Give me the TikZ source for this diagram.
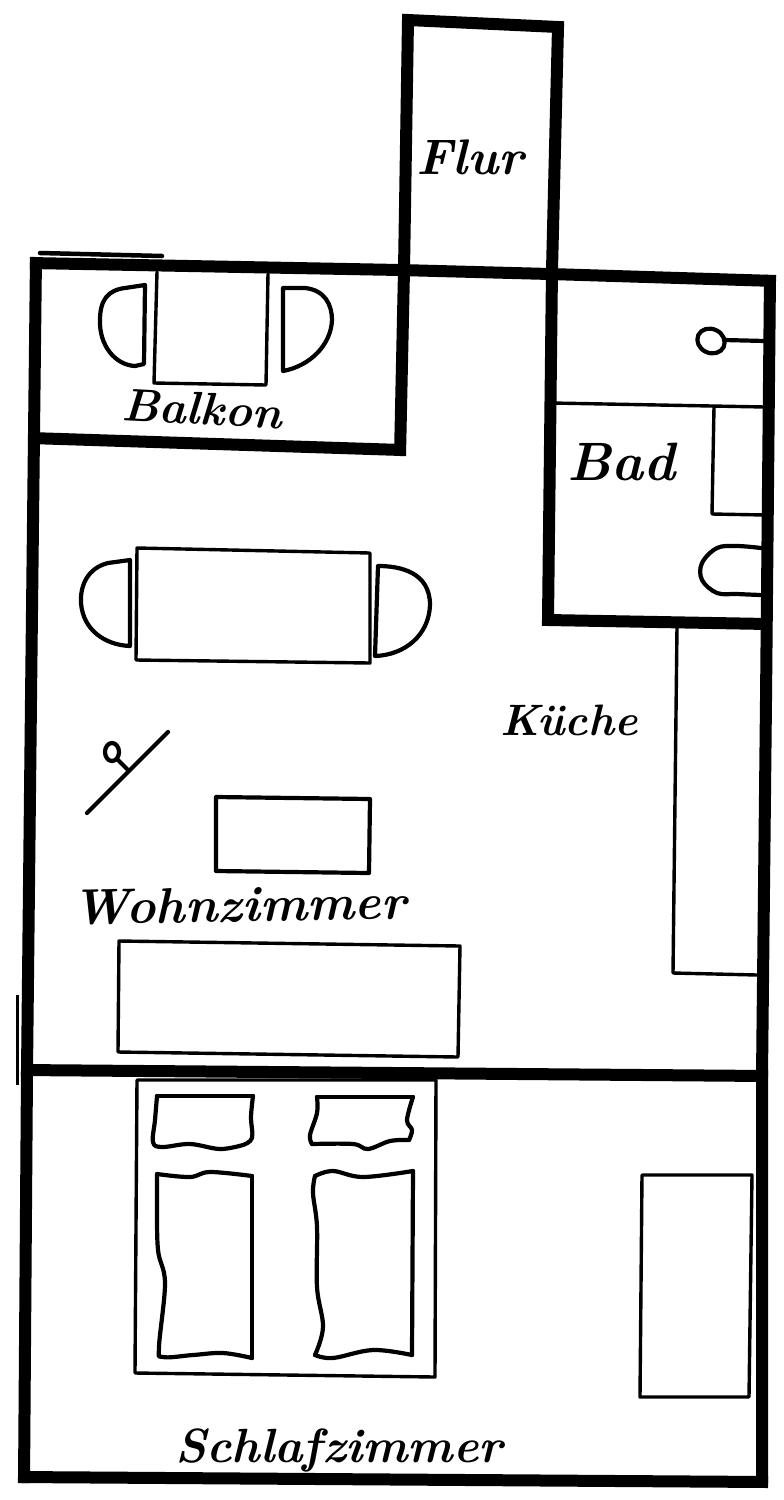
\documentclass[tikz,border=0pt]{standalone}
\usepackage{fontspec}
\tikzset{
  wall/.style={line width=12pt,line join=miter,line cap=butt},
  thinline/.style={line width=3.4pt,line join=round,line cap=round},
  medline/.style={line width=4.2pt,line join=round,line cap=round},
  wavy/.style={medline,smooth,tension=0.6},
  hand/.style={inner sep=0pt,font=\bfseries\itshape\fontsize{#1}{#1}\selectfont},
  hand/.default=40
}
\begin{document}
\begin{tikzpicture}[x=1pt,y=-1pt]
\useasboundingbox (0,0) rectangle (784,1500);
\fill[white] (0,0) rectangle (784,1500);
% outer walls
\draw[wall] (30,263) -- (400,270) -- (550,274) -- (776,281);
\draw[wall] (770,275) -- (766,700) -- (762,1076) -- (762,1487);
\draw[wall] (36,257) -- (31,700) -- (27,1072) -- (24,1483);
\draw[wall] (18,1477) -- (768,1482);
\draw[wall] (21,1070) -- (768,1076);
% hall and bathroom walls
\draw[wall] (400,456) -- (404,270) -- (408,20) -- (558,27) -- (552,270) -- (548,620) -- (768,624);
\draw[wall] (30,438) -- (402,450);
% small extra strokes
\draw[line width=4.5pt,line cap=round] (40,253) -- (162,256);
\draw[line width=3pt] (17,995) -- (17,1085);
% bathroom
\draw[thinline] (552,403) -- (765,407);
\draw[thinline] (765,515) -- (712,514) -- (714,407);
\draw[medline,rotate around={-25:(711,341)}] (711,341) ellipse[x radius=14,y radius=12];
\draw[medline] (724,340) -- (765,341);
\draw[medline] plot[smooth,tension=0.6] coordinates {(761,548) (737,546) (717,548) (702,563) (702,580) (717,593) (737,594) (760,595)};
% kitchen counter
\draw[thinline] (677,627) -- (673,973) -- (757,975);
% balcony furniture
\draw[thinline] (157,272) -- (154,383) -- (266,385) -- (268,274);
\draw[medline] (145,285) -- (125,288) .. controls (108,290) and (100,300) .. (100,320)
  .. controls (99,345) and (115,365) .. (135,366) -- (144,364) -- cycle;
\draw[medline] (283,288) -- (305,288) .. controls (325,290) and (332,305) .. (332,320)
  .. controls (331,345) and (310,366) .. (283,371) -- cycle;
% dining table
\draw[thinline] (137,548) -- (370,553) -- (370,663) -- (136,660) -- cycle;
\draw[medline] (130,560) -- (108,563) .. controls (88,568) and (80,585) .. (81,603)
  .. controls (83,630) and (105,645) .. (130,646) -- cycle;
\draw[medline] (378,566) .. controls (400,566) and (430,572) .. (430,605)
  .. controls (429,635) and (405,655) .. (375,656) -- cycle;
% lamp
\draw[medline] (87,813) -- (168,732);
\draw[medline] (112,752) ellipse[x radius=7,y radius=9];
\draw[medline] (118,760) -- (128,770);
% coffee table and sofa
\draw[medline] (216,797) -- (370,799) -- (369,873) -- (216,871) -- cycle;
\draw[thinline] (119,941) -- (460,946) -- (458,1057) -- (118,1052) -- cycle;
% bed
\draw[thinline] (137,1080) -- (436,1080) -- (435,1377) -- (135,1373) -- cycle;
% pillows
\draw[medline] (157,1096) -- (253,1096);
\draw[medline] plot[smooth,tension=0.6] coordinates {(253,1096) (251,1117) (252,1138) (243,1145)};
\draw[medline] plot[smooth,tension=0.6] coordinates {(243,1145) (220,1149) (190,1144) (162,1147) (153,1142) (155,1120) (157,1096)};
\draw[medline] (317,1097) -- (413,1097);
\draw[medline] plot[smooth,tension=0.6] coordinates {(413,1097) (407,1120) (412,1130) (409,1140)};
\draw[medline] plot[smooth,tension=0.6] coordinates {(409,1140) (390,1141) (368,1149) (353,1144) (312,1144)};
\draw[medline] plot[smooth,tension=0.6] coordinates {(312,1144) (310,1135) (317,1113) (317,1097)};
% mattresses
\draw[medline] plot[smooth,tension=0.6] coordinates {(157,1174) (190,1177) (210,1172) (252,1176)};
\draw[medline] (252,1176) -- (252,1358);
\draw[medline] plot[smooth,tension=0.6] coordinates {(252,1358) (223,1353) (193,1355) (163,1357) (159,1347) (165,1283) (158,1250) (157,1203) (157,1174)};
\draw[medline] plot[smooth,tension=0.6] coordinates {(315,1176) (333,1171) (363,1177) (413,1171)};
\draw[medline] (413,1171) -- (412,1355);
\draw[medline] plot[smooth,tension=0.6] coordinates {(412,1355) (373,1350) (333,1358) (315,1355)};
\draw[medline] plot[smooth,tension=0.6] coordinates {(315,1355) (323,1327) (317,1287) (317,1227) (313,1193) (315,1176)};
% wardrobe
\draw[thinline] (642,1175) -- (752,1175) -- (749,1397) -- (640,1397) -- cycle;
% labels
\node[hand=50] (flur) at (470,157) {Flur};
\node[hand=46,rotate=-3] (balkon) at (202,409) {Balkon};
\node[hand=54] (bad) at (621,462) {Bad};
\node[hand=44] (kueche) at (569,720) {Küche};
\node[hand=50,rotate=1] (wohnzimmer) at (239,905) {Wohnzimmer};
\node[hand=48] (schlafzimmer) at (339,1450) {Schlafzimmer};
\end{tikzpicture}
\end{document}
